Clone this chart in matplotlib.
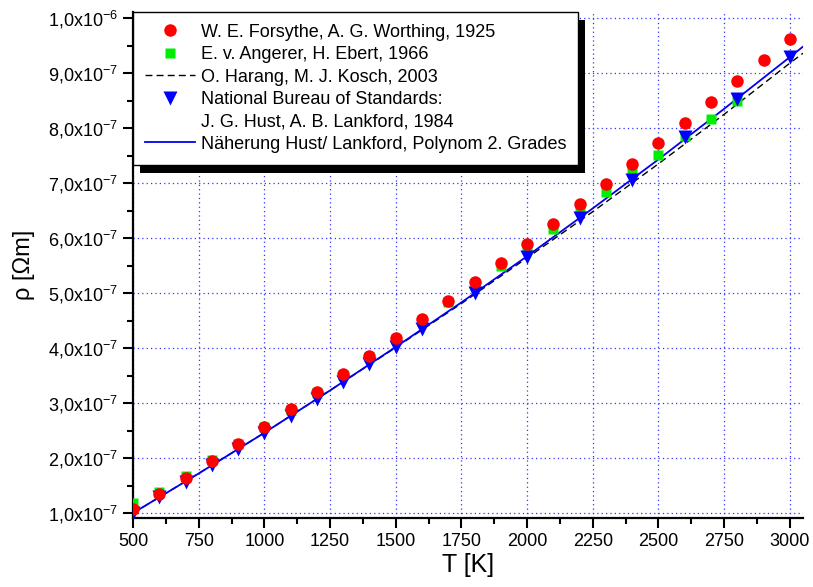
import numpy as np
import matplotlib
matplotlib.use("Agg")
import matplotlib.pyplot as plt
from matplotlib.lines import Line2D
from matplotlib.patches import Rectangle
from matplotlib.ticker import MultipleLocator, FuncFormatter

plt.rcParams["font.family"] = ["Liberation Sans", "DejaVu Sans"]
plt.rcParams["mathtext.default"] = "regular"

# ---------------- Data (rho in 1e-7 Ohm m) ----------------
T_forsythe = [500, 600, 700, 800, 900, 1000, 1100, 1200, 1300, 1400, 1500, 1600, 1700,
              1800, 1900, 2000, 2100, 2200, 2300, 2400, 2500, 2600, 2700, 2800, 2900, 3000]
rho_forsythe = [1.074, 1.354, 1.646, 1.947, 2.255, 2.570, 2.885, 3.200, 3.530, 3.860, 4.190,
                4.520, 4.850, 5.200, 5.550, 5.900, 6.250, 6.610, 6.980, 7.350, 7.730, 8.100,
                8.470, 8.850, 9.230, 9.620]

T_angerer = [500, 600, 700, 800, 900, 1000, 1100, 1200, 1300, 1400, 1500, 1600, 1700,
             1800, 1900, 2000, 2100, 2200, 2300, 2400, 2500, 2600, 2700, 2800]
rho_angerer = [1.18, 1.38, 1.67, 1.96, 2.26, 2.57, 2.88, 3.19, 3.51, 3.84, 4.16, 4.50, 4.83,
               5.15, 5.49, 5.84, 6.16, 6.53, 6.84, 7.20, 7.51, 7.85, 8.16, 8.50]

T_nbs = [500, 600, 700, 800, 900, 1000, 1100, 1200, 1300, 1400, 1500, 1600,
         1800, 2000, 2200, 2400, 2600, 2800, 3000]
rho_nbs = [1.01, 1.29, 1.56, 1.87, 2.16, 2.45, 2.76, 3.07, 3.38, 3.71, 4.02, 4.35,
           5.00, 5.65, 6.36, 7.05, 7.84, 8.53, 9.29]

T_line = [500, 750, 1000, 1250, 1500, 1750, 2000, 2250, 2500, 2750, 3000, 3050]
rho_fit = [1.00, 1.72, 2.46, 3.23, 4.02, 4.83, 5.67, 6.54, 7.43, 8.35, 9.29, 9.48]
rho_harang = [1.00, 1.72, 2.46, 3.23, 4.01, 4.81, 5.64, 6.48, 7.35, 8.25, 9.18, 9.36]

labels = [
    "W. E. Forsythe, A. G. Worthing, 1925",
    "E. v. Angerer, H. Ebert, 1966",
    "O. Harang, M. J. Kosch, 2003",
    "National Bureau of Standards:",
    "J. G. Hust, A. B. Lankford, 1984",
    "Näherung Hust/ Lankford, Polynom 2. Grades",
]

SCALE = 1e-7


def sci_label(v, pos):
    m = v / SCALE
    if abs(m - round(m)) > 1e-6:
        return ""
    if round(m) >= 10:
        return r"%sx10$^{-6}$" % f"{m / 10:.1f}".replace(".", ",")
    return r"%sx10$^{-7}$" % f"{m:.1f}".replace(".", ",")


fig = plt.figure(figsize=(8.13, 5.87), dpi=100)
ax = fig.add_axes([0.1636, 0.1175, 0.8241, 0.8621])

ax.plot(T_line, np.array(rho_harang) * SCALE, color="black", ls=(0, (5, 3)), lw=1.0, zorder=2)
ax.plot(T_line, np.array(rho_fit) * SCALE, color="#0000ee", lw=1.3, zorder=2.1)
ax.plot(T_angerer, np.array(rho_angerer) * SCALE, ls="none", marker="s", ms=7.5,
        color="#00ee00", mec="none", zorder=3)
ax.plot(T_nbs, np.array(rho_nbs) * SCALE, ls="none", marker="v", ms=10,
        color="#0000ff", mec="none", zorder=3.1)
ax.plot(T_forsythe, np.array(rho_forsythe) * SCALE, ls="none", marker="o", ms=9,
        color="#ff0000", mec="none", zorder=3.2)

ax.set_xlim(500, 3050)
ax.set_ylim(0.91e-7, 1.011e-6)

ax.xaxis.set_major_locator(MultipleLocator(250))
ax.xaxis.set_minor_locator(MultipleLocator(125))
ax.yaxis.set_major_locator(MultipleLocator(1e-7))
ax.yaxis.set_minor_locator(MultipleLocator(0.5e-7))
ax.yaxis.set_major_formatter(FuncFormatter(sci_label))

ax.grid(True, which="major", color="#3333ff", ls=(0, (1, 2.5)), lw=0.9)
ax.set_axisbelow(True)

for side in ("top", "right"):
    ax.spines[side].set_visible(False)
for side in ("left", "bottom"):
    ax.spines[side].set_linewidth(1.6)

ax.tick_params(which="major", direction="out", length=7, width=1.5, labelsize=13, pad=4)
ax.tick_params(which="minor", direction="out", length=4, width=1.5)

ax.set_xlabel("T [K]", fontsize=18, labelpad=2)
ax.set_ylabel("ρ [Ωm]", fontsize=17, labelpad=9)

handles = [
    Line2D([], [], ls="none", marker="o", ms=9, color="#ff0000", mec="none"),
    Line2D([], [], ls="none", marker="s", ms=7.5, color="#00ee00", mec="none"),
    Line2D([], [], color="black", ls=(0, (5, 3)), lw=1.0),
    Line2D([], [], ls="none", marker="v", ms=10, color="#0000ff", mec="none"),
    Line2D([], [], ls="none"),
    Line2D([], [], color="#0000ee", lw=1.3),
]
leg = ax.legend(handles, labels, loc="upper left", bbox_to_anchor=(0, 1), borderaxespad=0,
                fontsize=13, frameon=True, fancybox=False, edgecolor="black",
                framealpha=1, handlelength=2.8, handletextpad=0.33, labelspacing=0.3,
                borderpad=0.65)
leg.get_frame().set_linewidth(1.0)
leg.set_zorder(6)

# drop shadow behind the legend box
fig.canvas.draw()
bb = leg.get_frame().get_window_extent().transformed(ax.transAxes.inverted())
dx = 7 / (ax.bbox.width)
dy = 8 / (ax.bbox.height)
ax.add_patch(Rectangle((bb.x0 + dx, bb.y0 - dy), bb.width, bb.height, transform=ax.transAxes,
                       facecolor="black", edgecolor="none", clip_on=False, zorder=5))

fig.savefig("out.png", dpi=100)
